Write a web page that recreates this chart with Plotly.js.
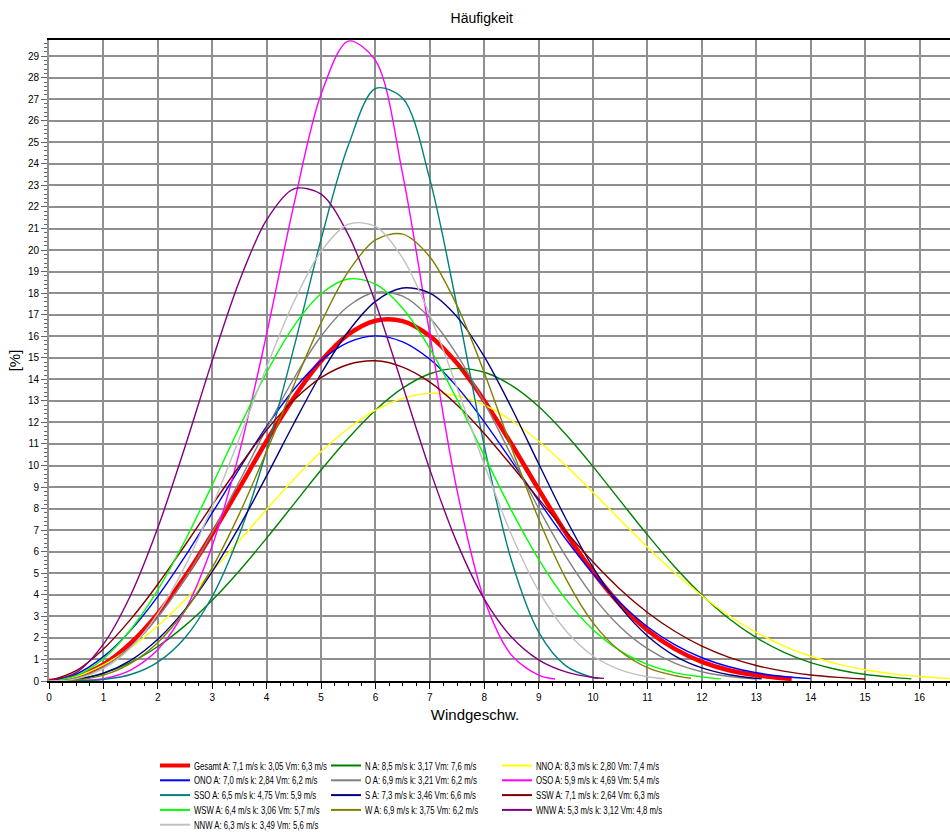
<!DOCTYPE html>
<html>
<head>
<meta charset="utf-8">
<script src="https://cdn.plot.ly/plotly-3.0.1.min.js"></script>
<style>
  html, body { margin: 0; padding: 0; background: #ffffff; }
  #chart { width: 950px; height: 832px; }
</style>
</head>
<body>
<div id="chart"></div>
<script>
// Wind speed grid in m/s
const windSpeed = [0, 0.5, 1, 1.5, 2, 2.5, 3, 3.5, 4, 4.5, 5, 5.5, 6, 6.5, 7, 7.5, 8, 8.5,
                   9, 9.5, 10, 10.5, 11, 11.5, 12, 12.5, 13, 13.5, 14, 14.5, 15, 15.5, 16, 16.5];

// Sector names and legend texts (Weibull A, k and mean speed per sector)
const sectors = ['Gesamt', 'N', 'NNO', 'ONO', 'O', 'OSO', 'SSO', 'S', 'SSW', 'WSW', 'W', 'WNW', 'NNW'];
const legendLabels = [
  'Gesamt A: 7,1 m/s k: 3,05 Vm: 6,3 m/s',
  'N A: 8,5 m/s k: 3,17 Vm: 7,6 m/s',
  'NNO A: 8,3 m/s k: 2,80 Vm: 7,4 m/s',
  'ONO A: 7,0 m/s k: 2,84 Vm: 6,2 m/s',
  'O A: 6,9 m/s k: 3,21 Vm: 6,2 m/s',
  'OSO A: 5,9 m/s k: 4,69 Vm: 5,4 m/s',
  'SSO A: 6,5 m/s k: 4,75 Vm: 5,9 m/s',
  'S A: 7,3 m/s k: 3,46 Vm: 6,6 m/s',
  'SSW A: 7,1 m/s k: 2,64 Vm: 6,3 m/s',
  'WSW A: 6,4 m/s k: 3,06 Vm: 5,7 m/s',
  'W A: 6,9 m/s k: 3,75 Vm: 6,2 m/s',
  'WNW A: 5,3 m/s k: 3,12 Vm: 4,8 m/s',
  'NNW A: 6,3 m/s k: 3,49 Vm: 5,6 m/s'
];

// Last wind speed drawn for each sector (curve ends there)
const endSpeed = [13.65, 15.85, 17, 14.0, 13.0, 9.3, 10.1, 13.1, 15.0, 12.35, 11.8, 10.2, 11.33];

// Frequency [%] per sector on the grid, final entry at endSpeed
const freqGesamt = [0, 0.19, 0.77, 1.76, 3.13, 4.85, 6.83, 8.97, 11.14, 13.15, 14.85, 16.08, 16.72, 16.70, 16.01, 14.74, 13.01, 11.00, 8.89, 6.87, 5.06, 3.54, 2.36, 1.49, 0.89, 0.50, 0.27, 0.13, 0.10];
const freqN = [0, 0.08, 0.36, 0.86, 1.60, 2.57, 3.75, 5.12, 6.63, 8.21, 9.79, 11.27, 12.57, 13.59, 14.26, 14.51, 14.33, 13.72, 12.74, 11.44, 9.95, 8.36, 6.78, 5.30, 3.99, 2.89, 2.01, 1.34, 0.85, 0.52, 0.30, 0.17, 0.10];
const freqNNO = [0, 0.21, 0.75, 1.54, 2.56, 3.76, 5.10, 6.52, 7.96, 9.36, 10.64, 11.72, 12.57, 13.12, 13.35, 13.24, 12.81, 12.09, 11.13, 10.00, 8.75, 7.47, 6.21, 5.02, 3.96, 3.03, 2.26, 1.63, 1.15, 0.78, 0.52, 0.33, 0.21, 0.12, 0.07];
const freqONO = [0, 0.32, 1.13, 2.35, 3.93, 5.78, 7.80, 9.86, 11.82, 13.53, 14.87, 15.72, 16.02, 15.74, 14.93, 13.65, 12.03, 10.22, 8.36, 6.58, 4.98, 3.62, 2.52, 1.69, 1.08, 0.66, 0.38, 0.21, 0.11];
const freqO = [0, 0.14, 0.65, 1.59, 2.96, 4.75, 6.89, 9.27, 11.72, 14.04, 16.00, 17.39, 18.04, 17.86, 16.85, 15.14, 12.93, 10.46, 8.01, 5.78, 3.93, 2.51, 1.50, 0.83, 0.43, 0.21, 0.09];
const freqOSO = [0, 0.01, 0.11, 0.51, 1.46, 3.28, 6.28, 10.62, 16.11, 22.10, 27.23, 29.70, 28.80, 23.53, 16.08, 8.85, 3.78, 1.20, 0.27, 0.09];
const freqSSO = [0, 0.005, 0.07, 0.30, 0.88, 2.01, 3.92, 6.80, 10.71, 15.46, 20.49, 24.85, 27.50, 27.05, 23.28, 17.37, 10.91, 5.59, 2.27, 0.70, 0.16, 0.12];
const freqS = [0, 0.07, 0.36, 0.96, 1.94, 3.31, 5.08, 7.18, 9.52, 11.95, 14.26, 16.22, 17.62, 18.24, 18.00, 16.90, 15.05, 12.68, 10.08, 7.53, 5.27, 3.44, 2.09, 1.17, 0.61, 0.29, 0.12, 0.10];
const freqSSW = [0, 0.48, 1.49, 2.86, 4.49, 6.30, 8.17, 9.98, 11.65, 13.04, 14.08, 14.69, 14.86, 14.57, 13.87, 12.81, 11.49, 10.00, 8.45, 6.94, 5.52, 4.25, 3.18, 2.31, 1.62, 1.10, 0.72, 0.46, 0.28, 0.17, 0.09];
const freqWSW = [0, 0.25, 1.04, 2.38, 4.23, 6.52, 9.10, 11.78, 14.32, 16.47, 17.97, 18.66, 18.42, 17.30, 15.43, 13.06, 10.46, 7.92, 5.65, 3.79, 2.38, 1.40, 0.77, 0.39, 0.19, 0.10];
const freqW = [0, 0.04, 0.27, 0.82, 1.79, 3.26, 5.26, 7.77, 10.66, 13.72, 16.62, 19.00, 20.47, 20.74, 19.68, 17.42, 14.31, 10.83, 7.52, 4.75, 2.70, 1.38, 0.62, 0.25, 0.13];
const freqWNW = [0, 0.39, 1.71, 3.98, 7.11, 10.87, 14.87, 18.57, 21.40, 22.84, 22.60, 20.72, 17.56, 13.70, 9.81, 6.41, 3.80, 2.04, 0.98, 0.42, 0.16, 0.12];
const freqNNW = [0, 0.10, 0.57, 1.54, 3.13, 5.33, 8.10, 11.28, 14.57, 17.60, 19.94, 21.20, 21.10, 19.63, 16.98, 13.61, 10.05, 6.79, 4.18, 2.33, 1.16, 0.52, 0.20, 0.10];

const frequencies = [freqGesamt, freqN, freqNNO, freqONO, freqO, freqOSO, freqSSO,
                     freqS, freqSSW, freqWSW, freqW, freqWNW, freqNNW];

const lineColors = ['#ff0000', '#008000', '#ffff00', '#0000ff', '#808080', '#ff00ff', '#008080',
                    '#000080', '#800000', '#00ff00', '#808000', '#800080', '#c0c0c0'];

const traces = sectors.map((name, i) => {
  const xs = windSpeed.filter(v => v < endSpeed[i]).concat([endSpeed[i]]);
  return {
    type: 'scatter',
    mode: 'lines',
    name: name,
    x: xs,
    y: frequencies[i],
    line: { color: lineColors[i], width: i === 0 ? 4.5 : 1.4, shape: 'spline', smoothing: 0.9 },
    showlegend: false,
    hoverinfo: 'skip'
  };
});

// Plot frame in pixels
const plotLeft = 49, plotWidth = 901, plotBottom = 681, plotHeight = 641;
const px2x = px => (px - plotLeft) / plotWidth;
const px2y = py => (plotBottom - py) / plotHeight;

// Legend block below the axis: three columns, filled row by row
const legendColX = [160, 331, 502];
const legendRowY = [765.5, 780.3, 795.1, 809.9, 824.7];
const swatchLen = 30;
const legendCondense = 0.74;   // narrow lettering for the legend texts

const legendShapes = [];
const legendNotes = [];
legendLabels.forEach((label, i) => {
  const cx = legendColX[i % 3];
  const ry = legendRowY[Math.floor(i / 3)];
  legendShapes.push({
    type: 'line', xref: 'paper', yref: 'paper',
    x0: px2x(cx), x1: px2x(cx + swatchLen), y0: px2y(ry), y1: px2y(ry),
    line: { color: lineColors[i], width: i === 0 ? 4 : 2 }
  });
  legendNotes.push({
    xref: 'paper', yref: 'paper',
    x: px2x(cx + swatchLen + 2), y: px2y(ry),
    xanchor: 'left', yanchor: 'middle', align: 'left', showarrow: false,
    text: label,
    font: { family: 'Liberation Sans, Arial, sans-serif', size: 10.5, color: '#000' }
  });
});

const gridCol = '#8f8f8f';
const xTitleCentre = 475;   // axis caption sits at the page centre

const layout = {
  width: 950,
  height: 832,
  margin: { l: 49, r: 0, t: 40, b: 151, pad: 0 },
  paper_bgcolor: '#ffffff',
  plot_bgcolor: '#ffffff',
  font: { family: 'Liberation Sans, Arial, sans-serif', color: '#000', size: 10 },
  showlegend: false,
  title: {
    text: 'Häufigkeit',
    font: { size: 14, color: '#000' },
    xref: 'container', x: 0.507, xanchor: 'center',
    yref: 'container', y: 1 - 18 / 832, yanchor: 'middle'
  },
  xaxis: {
    range: [0, 16.56],
    tick0: 0, dtick: 1,
    ticks: 'outside', ticklen: 6, tickwidth: 1, tickcolor: '#000',
    tickfont: { size: 10 },
    showgrid: true, gridcolor: gridCol, gridwidth: 2,
    showline: true, linecolor: '#000', linewidth: 2, mirror: true,
    zeroline: false,
    minor: { dtick: 0.25, ticks: 'outside', ticklen: 3, tickcolor: '#000', showgrid: false },
    title: { text: 'Windgeschw.', font: { size: 15 }, standoff: 7 },
    automargin: false,
    fixedrange: true
  },
  yaxis: {
    range: [0, 29.75],
    tick0: 0, dtick: 1,
    ticks: 'outside', ticklen: 6, tickwidth: 1, tickcolor: '#666',
    tickfont: { size: 10 },
    showgrid: true, gridcolor: gridCol, gridwidth: 2,
    showline: true, linecolor: gridCol, linewidth: 2,
    zeroline: false,
    minor: { dtick: 0.2, ticks: 'outside', ticklen: 3, tickcolor: '#666', showgrid: false },
    title: { text: '[%]', font: { size: 15 }, standoff: 4 },
    automargin: false,
    fixedrange: true
  },
  shapes: legendShapes,
  annotations: legendNotes
};

Plotly.newPlot('chart', traces, layout, { displayModeBar: false, staticPlot: true }).then(() => {
  // squeeze the legend lettering horizontally, keeping the left edge fixed
  document.querySelectorAll('#chart .annotation-text').forEach(t => {
    const w = t.getComputedTextLength();
    t.setAttribute('textLength', (w * legendCondense).toFixed(1));
    t.setAttribute('lengthAdjust', 'spacingAndGlyphs');
  });
  // centre the x-axis caption on the page
  const xt = document.querySelector('#chart .g-xtitle text');
  if (xt) xt.setAttribute('x', xTitleCentre);
});
</script>
</body>
</html>
